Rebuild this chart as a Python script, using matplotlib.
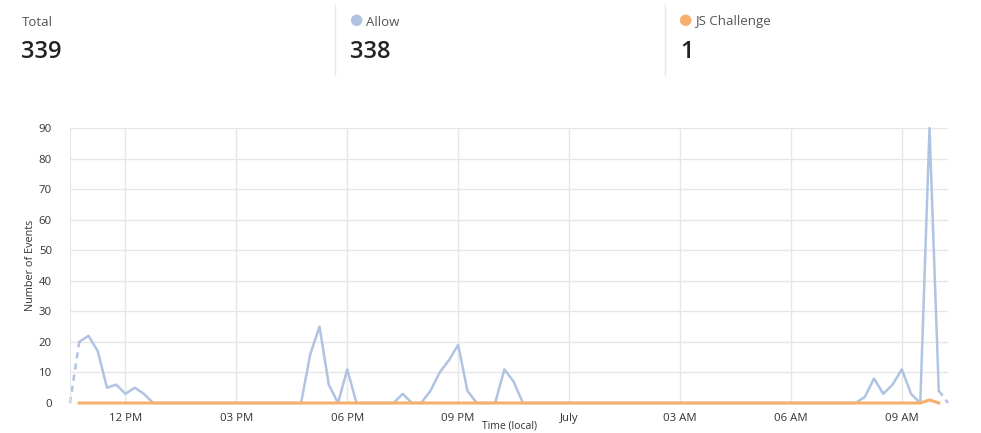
import matplotlib
matplotlib.use('Agg')
import matplotlib.pyplot as plt
import matplotlib.dates as mdates
import numpy as np
import pandas as pd

## 15 minute buckets, 10:30 AM to 10:15 AM next day
times = pd.date_range('2023-06-30 10:30', '2023-07-01 10:15', freq='15min')

## Allow counts per bucket (zero where nothing happened)
allow = np.zeros(len(times))
allow_points = {1: 20, 2: 22, 3: 17, 4: 5, 5: 6, 6: 3, 7: 5, 8: 3,
                26: 16, 27: 25, 28: 6, 30: 11,
                36: 3,
                39: 4, 40: 10, 41: 14, 42: 19, 43: 4,
                47: 11, 48: 7,
                86: 2, 87: 8, 88: 3, 89: 6, 90: 11, 91: 3,
                93: 90, 94: 4}
for k, v in allow_points.items():
    allow[k] = v

## JS Challenge counts per bucket
challenge = np.zeros(len(times))
challenge[93] = 1

total_count = 339
allow_count = 338
challenge_count = 1

blue = '#b0c4e2'
orange = '#f5b06e'

plt.rcParams['font.family'] = ['Open Sans', 'DejaVu Sans']

fig = plt.figure(figsize=(9.81, 4.33), dpi=100)
ax = fig.add_axes([70/981, 1-403/433, 878/981, 275/433])

## partial buckets at both ends are dashed
ax.plot(times[0:2], allow[0:2], color=blue, lw=1.8, ls=(0, (2.5, 2)), clip_on=False)
ax.plot(times[-2:], allow[-2:], color=blue, lw=1.8, ls=(0, (2.5, 2)), clip_on=False)
ax.plot(times[1:-1], allow[1:-1], color=blue, lw=1.8, clip_on=False)
ax.plot(times[1:-1], challenge[1:-1], color=orange, lw=2.2, clip_on=False)

ax.set_xlim(times[0], times[-1])
ax.set_ylim(0, 90)
ax.set_yticks(range(0, 91, 10))

ax.xaxis.set_major_locator(mdates.HourLocator(byhour=[0, 3, 6, 9, 12, 15, 18, 21]))
def fmt(x, pos):
    d = mdates.num2date(x)
    if d.hour == 0:
        return d.strftime('%B')
    return d.strftime('%I %p')
ax.xaxis.set_major_formatter(plt.FuncFormatter(fmt))

ax.grid(True, color='#e6e6e6', lw=1)
ax.set_axisbelow(True)
for s in ['top', 'right', 'bottom']:
    ax.spines[s].set_visible(False)
ax.spines['left'].set_color('#e6e6e6')
ax.tick_params(length=0, labelsize=8.2, colors='#333333')
ax.tick_params(axis='x', pad=7)
ax.tick_params(axis='y', pad=13)
ax.set_ylabel('Number of Events', fontsize=7.8, color='#333333', labelpad=2)
## x axis title sits at the very bottom edge
fig.text(509/981, 2/433, 'Time (local)', fontsize=7.5, color='#333333', ha='center', va='bottom')

## header summary
fig.text(22/981, 1-22/433, 'Total', fontsize=9.5, color='#555555', va='center')
fig.text(21/981, 1-52/433, str(total_count), fontsize=17, fontweight='semibold', color='#222222', va='center')
for xd in [335, 665]:
    fig.add_artist(plt.Line2D([xd/981, xd/981], [1-5/433, 1-75/433], color='#e8e8e8', lw=1))
fig.text(356/981, 1-21/433, '\u25CF', fontsize=11, color=blue, va='center', ha='center')
fig.text(366/981, 1-22/433, 'Allow', fontsize=9.5, color='#555555', va='center')
fig.text(350/981, 1-52/433, str(allow_count), fontsize=17, fontweight='semibold', color='#222222', va='center')
fig.text(685/981, 1-21/433, '\u25CF', fontsize=11, color=orange, va='center', ha='center')
fig.text(695/981, 1-22/433, 'JS Challenge', fontsize=9.5, color='#555555', va='center')
fig.text(680/981, 1-52/433, str(challenge_count), fontsize=17, fontweight='semibold', color='#222222', va='center')

fig.savefig('out.png', dpi=100)
